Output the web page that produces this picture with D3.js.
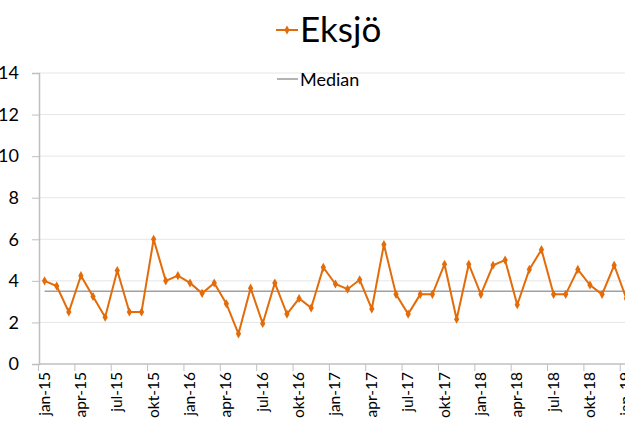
<!DOCTYPE html>
<html>
<head>
<meta charset="utf-8">
<script src="https://cdn.jsdelivr.net/npm/d3@7"></script>
<style>
  body { margin: 0; background: #fff; }
  svg { display: block; font-family: Lato, "Open Sans", sans-serif; }
</style>
</head>
<body>
<div class="canva"></div>
<script>
// data
const months = ['jan','feb','mar','apr','maj','jun','jul','aug','sep','okt','nov','dec'];
const years = ['15','16','17','18','19'];
const values = [4.0, 3.75, 2.5, 4.25, 3.25, 2.25, 4.5, 2.5, 2.5, 6.0, 4.0, 4.25,
                3.9, 3.4, 3.9, 2.9, 1.45, 3.65, 1.95, 3.9, 2.4, 3.15, 2.7, 4.65,
                3.85, 3.6, 4.05, 2.65, 5.75, 3.35, 2.4, 3.35, 3.35, 4.8, 2.15, 4.8,
                3.35, 4.75, 5.0, 2.85, 4.55, 5.5, 3.35, 3.35, 4.55, 3.8, 3.35, 4.75,
                3.15];
const median = 3.5;
const yTicks = [0, 2, 4, 6, 8, 10, 12, 14];
const seriesName = 'Eksjö';
const medianName = 'Median';

// categories jan-15 ... (plot runs past the right edge)
let categories = [];
years.forEach(y => months.forEach(m => categories.push(m + '-' + y)));
categories = categories.slice(0, 54);

const orange = '#e36c0a';
const W = 625, H = 427;

const svg = d3.select('.canva').append('svg')
    .attr('width', W)
    .attr('height', H);

const x = d3.scaleBand()
    .domain(categories)
    .range([38.5, 38.5 + 12.12 * categories.length]);

const y = d3.scaleLinear()
    .domain([0, 14])
    .range([364, 73]);

// gridlines
svg.append('g')
    .selectAll('line')
    .data(yTicks.filter(d => d > 0))
    .enter().append('line')
    .attr('x1', 39).attr('x2', W)
    .attr('y1', d => y(d)).attr('y2', d => y(d))
    .attr('stroke', '#e6e6e6')
    .attr('stroke-width', 1);

// y axis
const yAxis = svg.append('g')
    .attr('transform', 'translate(39,0)')
    .call(d3.axisLeft(y).tickValues(yTicks).tickSize(7).tickPadding(13));
yAxis.select('.domain').attr('stroke', '#bfbfbf').attr('stroke-width', 1.5);
yAxis.selectAll('.tick line').attr('stroke', '#bfbfbf');
yAxis.selectAll('.tick text')
    .attr('fill', '#000')
    .style('font-size', '18px')
    .style('font-family', 'Lato, sans-serif');

// x axis: ticks at category boundaries every 3 months
const xAxisG = svg.append('g').attr('transform', 'translate(0,364)');
xAxisG.append('line')
    .attr('x1', 39).attr('x2', W)
    .attr('stroke', '#bfbfbf').attr('stroke-width', 1.5);
const shown = categories.filter((c, i) => i % 3 === 0);
xAxisG.selectAll('.tk')
    .data(shown)
    .enter().append('line')
    .attr('class', 'tk')
    .attr('x1', d => x(d)).attr('x2', d => x(d))
    .attr('y1', 0).attr('y2', 7)
    .attr('stroke', '#bfbfbf');
xAxisG.selectAll('text')
    .data(shown)
    .enter().append('text')
    .attr('transform', d => `translate(${x(d) + x.bandwidth() / 2 + 5},8) rotate(-90)`)
    .attr('text-anchor', 'end')
    .style('font-size', '15.5px')
    .text(d => d);

// median line
svg.append('line')
    .attr('x1', x(categories[0]) + x.bandwidth() / 2)
    .attr('x2', W)
    .attr('y1', y(median)).attr('y2', y(median))
    .attr('stroke', '#a0a0a0')
    .attr('stroke-width', 1.5);

// series line
const line = d3.line()
    .x((d, i) => x(categories[i]) + x.bandwidth() / 2)
    .y(d => y(d));

svg.append('path')
    .datum(values)
    .attr('d', line)
    .attr('fill', 'none')
    .attr('stroke', orange)
    .attr('stroke-width', 2);

const marker = d3.symbol().type(d3.symbolDiamond).size(24);
svg.selectAll('.pt')
    .data(values)
    .enter().append('path')
    .attr('class', 'pt')
    .attr('d', marker)
    .attr('transform', (d, i) => `translate(${x(categories[i]) + x.bandwidth() / 2},${y(d)})`)
    .attr('fill', orange);

// legend / title
const lg = svg.append('g');
lg.append('line')
    .attr('x1', 276).attr('x2', 298).attr('y1', 30).attr('y2', 30)
    .attr('stroke', orange).attr('stroke-width', 2);
lg.append('path')
    .attr('d', marker)
    .attr('transform', 'translate(287,30)')
    .attr('fill', orange);
lg.append('text')
    .attr('x', 300).attr('y', 42)
    .style('font-size', '35px')
    .text(seriesName);

lg.append('line')
    .attr('x1', 277).attr('x2', 298).attr('y1', 79).attr('y2', 79)
    .attr('stroke', '#808080').attr('stroke-width', 1.2);
lg.append('text')
    .attr('x', 300).attr('y', 86)
    .style('font-size', '18px')
    .text(medianName);
</script>
</body>
</html>
